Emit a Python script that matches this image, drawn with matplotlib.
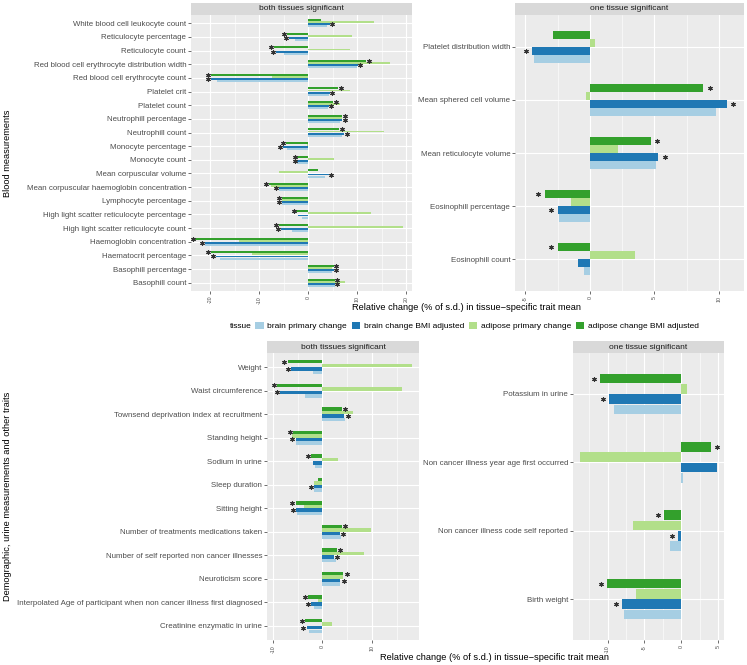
import matplotlib
matplotlib.use("Agg")
import matplotlib.pyplot as plt
from matplotlib.patches import Patch
from matplotlib.transforms import offset_copy
import numpy as np

plt.rcParams["font.family"] = ["Liberation Sans", "DejaVu Sans"]

# ---- data --------------------------------------------------------------
series_names = ["brain primary change", "brain change BMI adjusted",
                "adipose primary change", "adipose change BMI adjusted"]
colors = {"brain primary change": "#A6CEE3", "brain change BMI adjusted": "#1F78B4",
          "adipose primary change": "#B2DF8A", "adipose change BMI adjusted": "#33A02C"}

blood_both_cats = [
    "White blood cell leukocyte count", "Reticulocyte percentage", "Reticulocyte count",
    "Red blood cell erythrocyte distribution width", "Red blood cell erythrocyte count",
    "Platelet crit", "Platelet count", "Neutrophill percentage", "Neutrophill count",
    "Monocyte percentage", "Monocyte count", "Mean corpuscular volume",
    "Mean corpuscular haemoglobin concentration", "Lymphocyte percentage",
    "High light scatter reticulocyte percentage", "High light scatter reticulocyte count",
    "Haemoglobin concentration", "Haematocrit percentage", "Basophill percentage",
    "Basophill count"]
blood_both_adip_adj = [2.7, -4.3, -7.0, 11.8, -19.9, 6.1, 5.1, 6.9, 6.3, -4.6,
                       -2.2, 2.0, -8.0, -5.4, -2.4, -5.9, -23.0, -19.9, 5.2, 5.4]
blood_both_adip_prim = [13.5, 9.0, 8.6, 16.8, -7.3, 8.5, 6.6, 6.9, 15.4, -0.3,
                        5.2, -5.9, -7.6, -5.4, 12.9, 19.3, -14.2, -11.4, 4.9, 7.6]
blood_both_brain_adj = [4.4, -3.9, -6.6, 10.1, -19.9, 4.4, 4.2, 6.9, 7.4, -5.2,
                        -2.2, 4.2, -5.9, -5.3, -2.1, -5.6, -21.0, -18.9, 5.2, 5.4]
blood_both_brain_prim = [3.9, -2.7, -5.0, 10.0, -18.6, 4.2, 4.1, 6.6, 6.9, -4.4,
                         -2.2, 3.5, -5.9, -5.3, -1.2, -3.2, -21.0, -18.0, 4.9, 5.4]
blood_both_sig_adip = [0, 1, 1, 1, 1, 1, 1, 1, 1, 1, 1, 0, 1, 1, 1, 1, 1, 1, 1, 1]
blood_both_sig_brain = [1, 1, 1, 1, 1, 1, 1, 1, 1, 1, 1, 1, 1, 1, 0, 1, 1, 1, 1, 1]

blood_one_cats = ["Platelet distribution width", "Mean sphered cell volume",
                  "Mean reticulocyte volume", "Eosinophill percentage", "Eosinophill count"]
blood_one_adip_adj = [-2.9, 8.8, 4.7, -3.5, -2.5]
blood_one_adip_prim = [0.4, -0.3, 2.2, -1.5, 3.5]
blood_one_brain_adj = [-4.5, 10.6, 5.3, -2.5, -0.9]
blood_one_brain_prim = [-4.3, 9.8, 5.1, -2.4, -0.5]
blood_one_sig_adip = [0, 1, 1, 1, 1]
blood_one_sig_brain = [1, 1, 1, 1, 0]

other_both_cats = [
    "Weight", "Waist circumference", "Townsend deprivation index at recruitment",
    "Standing height", "Sodium in urine", "Sleep duration", "Sitting height",
    "Number of treatments medications taken", "Number of self reported non cancer illnesses",
    "Neuroticism score",
    "Interpolated Age of participant when non cancer illness first diagnosed",
    "Creatinine enzymatic in urine"]
other_both_adip_adj = [-7.0, -9.2, 3.9, -5.9, -2.3, -0.9, -5.4, 3.9, 2.9, 4.2, -2.9, -3.5]
other_both_adip_prim = [18.1, 16.1, 6.2, -6.2, 3.1, -1.7, -3.7, 9.8, 8.4, 4.2, -1.0, 1.9]
other_both_brain_adj = [-6.3, -8.6, 4.4, -5.4, -1.9, -1.7, -5.3, 3.5, 2.3, 3.6, -2.3, -3.2]
other_both_brain_prim = [-1.9, -3.5, 4.5, -5.4, -1.5, -1.7, -5.1, 3.7, 2.7, 3.5, -1.7, -2.7]
other_both_sig_adip = [1, 1, 1, 1, 1, 0, 1, 1, 1, 1, 1, 1]
other_both_sig_brain = [1, 1, 1, 1, 0, 1, 1, 1, 1, 1, 1, 1]

other_one_cats = ["Potassium in urine", "Non cancer illness year age first occurred",
                  "Non cancer illness code self reported", "Birth weight"]
other_one_adip_adj = [-11.0, 4.0, -2.4, -10.1]
other_one_adip_prim = [0.8, -13.8, -6.6, -6.2]
other_one_brain_adj = [-9.8, 4.9, -0.45, -8.1]
other_one_brain_prim = [-9.1, 0.2, -1.5, -7.8]
other_one_sig_adip = [1, 1, 1, 1]
other_one_sig_brain = [1, 0, 1, 1]

W, H = 747, 665
fig = plt.figure(figsize=(W / 100, H / 100), dpi=100)


def box(x0, y0, x1, y1):
    return [x0 / W, 1 - y1 / H, (x1 - x0) / W, (y1 - y0) / H]


def panel(pbox, sbox, title, cats, adip_adj, adip_prim, brain_adj, brain_prim,
          sig_adip, sig_brain, xlim, xticks, star_pt):
    ax = fig.add_axes(box(*pbox))
    n = len(cats)
    y = np.arange(n)
    slot = 0.15
    # top to bottom inside a group: adipose adj, adipose primary, brain adj, brain primary
    order = [(adip_adj, "adipose change BMI adjusted"),
             (adip_prim, "adipose primary change"),
             (brain_adj, "brain change BMI adjusted"),
             (brain_prim, "brain primary change")]
    for k, (vals, name) in enumerate(order):
        ax.barh(y + (k - 1.5) * slot, vals, height=slot * 0.95,
                color=colors[name], linewidth=0, zorder=3)
    for vals, sig, k in [(adip_adj, sig_adip, 0), (brain_adj, sig_brain, 2)]:
        v = np.array(vals)
        s = np.array(sig, dtype=bool)
        yy = y + (k - 1.5) * slot
        for sign in (1, -1):
            m = s & (np.sign(v) == sign)
            tr = offset_copy(ax.transData, fig=fig, x=sign * star_pt, y=0, units="points")
            ax.plot(v[m], yy[m], ls="none", marker=(6, 2, 0), ms=3.2, mew=0.8,
                    color="#333333", transform=tr, zorder=4)
    ax.set_ylim(n - 0.4, -0.6)
    ax.set_xlim(*xlim)
    ax.set_yticks(y)
    ax.set_yticklabels(cats, fontsize=5.65, color="#4D4D4D")
    ax.set_xticks(xticks)
    ax.set_xticklabels([str(t) for t in xticks], fontsize=3.8, color="#4D4D4D", rotation=90)
    step = xticks[1] - xticks[0]
    minors = np.arange(xticks[0] - step / 2, xlim[1], step)
    ax.set_xticks([m for m in minors if xlim[0] < m < xlim[1]], minor=True)
    ax.set_facecolor("#EBEBEB")
    ax.grid(which="major", color="white", lw=0.8, zorder=0)
    ax.grid(which="minor", axis="x", color="white", lw=0.4, zorder=0)
    ax.set_axisbelow(True)
    for sp in ax.spines.values():
        sp.set_visible(False)
    ax.tick_params(which="major", length=2, width=0.5, color="#333333", pad=1.5)
    ax.tick_params(which="minor", length=0)
    sx = fig.add_axes(box(*sbox))
    sx.set_facecolor("#D9D9D9")
    sx.set_xticks([]); sx.set_yticks([])
    for sp in sx.spines.values():
        sp.set_visible(False)
    sx.text(0.5, 0.5, title, ha="center", va="center", fontsize=6, color="#1A1A1A",
            transform=sx.transAxes)
    return ax


panel((191, 15, 412, 291), (191, 3, 412, 15), "both tissues significant",
      blood_both_cats, blood_both_adip_adj, blood_both_adip_prim,
      blood_both_brain_adj, blood_both_brain_prim,
      blood_both_sig_adip, blood_both_sig_brain,
      (-23.9, 21.2), [-20, -10, 0, 10, 20], 2.0)
panel((515, 15, 744, 291), (515, 3, 744, 15), "one tissue significant",
      blood_one_cats, blood_one_adip_adj, blood_one_adip_prim,
      blood_one_brain_adj, blood_one_brain_prim,
      blood_one_sig_adip, blood_one_sig_brain,
      (-5.81, 11.94), [-5, 0, 5, 10], 4.6)
panel((267, 353, 419, 640), (267, 341, 419, 353), "both tissues significant",
      other_both_cats, other_both_adip_adj, other_both_adip_prim,
      other_both_brain_adj, other_both_brain_prim,
      other_both_sig_adip, other_both_sig_brain,
      (-11.2, 19.5), [-10, 0, 10], 2.4)
panel((573, 353, 724, 640), (573, 341, 724, 353), "one tissue significant",
      other_one_cats, other_one_adip_adj, other_one_adip_prim,
      other_one_brain_adj, other_one_brain_prim,
      other_one_sig_adip, other_one_sig_brain,
      (-14.7, 5.8), [-10, -5, 0, 5], 4.3)

xtitle = "Relative change (% of s.d.) in tissue\u2212specific trait mean"
fig.text(467 / W, 1 - 308 / H, xtitle, ha="center", va="center", fontsize=6.7)
fig.text(495 / W, 1 - 657 / H, xtitle, ha="center", va="center", fontsize=6.7)
fig.text(8 / W, 1 - 153 / H, "Blood measurements", rotation=90,
         ha="center", va="center", fontsize=6.7)
fig.text(8 / W, 1 - 496 / H, "Demographic, urine measurements and other traits",
         rotation=90, ha="center", va="center", fontsize=6.7)

# legend
fig.text(252 / W, 1 - 326 / H, "tissue", ha="right", va="center", fontsize=6)
handles = [Patch(facecolor=colors[s], edgecolor="none", label=s) for s in series_names]
fig.legend(handles=handles, loc="center", bbox_to_anchor=(477 / W, 1 - 326 / H),
           ncol=4, frameon=False, fontsize=6, handlelength=1.05, handleheight=1.0,
           handletextpad=0.4, columnspacing=0.55, borderpad=0, borderaxespad=0)

fig.savefig("out.png", dpi=100)
